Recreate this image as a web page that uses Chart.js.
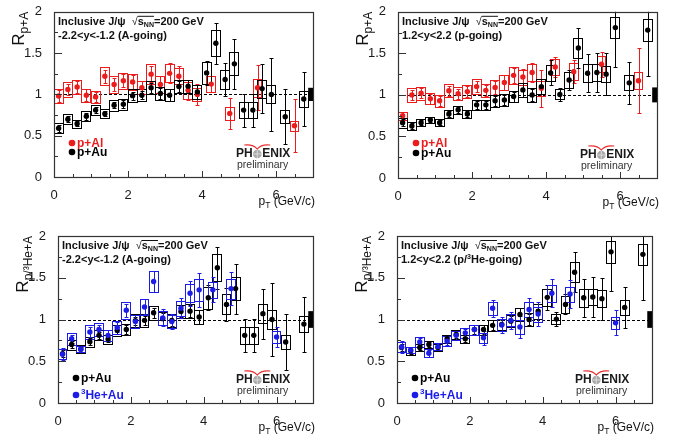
<!DOCTYPE html>
<html>
<head>
<meta charset="utf-8">
<script src="https://cdn.jsdelivr.net/npm/chart.js@4.4.1/dist/chart.umd.min.js"></script>
<style>
  html, body { margin: 0; padding: 0; background: #fff; }
  #wrap { position: relative; width: 678px; height: 444px; overflow: hidden; }
  canvas { position: absolute; }
</style>
</head>
<body>
<div id="wrap">
  <canvas id="c1" width="339" height="222" style="left:0;top:0;width:339px;height:222px"></canvas>
  <canvas id="c2" width="339" height="222" style="left:339px;top:0;width:339px;height:222px"></canvas>
  <canvas id="c3" width="339" height="222" style="left:0;top:222px;width:339px;height:222px"></canvas>
  <canvas id="c4" width="339" height="222" style="left:339px;top:222px;width:339px;height:222px"></canvas>
</div>
<script>
// pT bin centres (GeV/c)
const ptAu = [0.125, 0.375, 0.625, 0.875, 1.125, 1.375, 1.625, 1.875, 2.125, 2.375, 2.625, 2.875, 3.125,
              3.375, 3.625, 3.875, 4.125, 4.375, 4.625, 4.875, 5.125, 5.375, 5.625, 5.875, 6.25, 6.75];
const ptAl = [0.125, 0.375, 0.625, 0.875, 1.125, 1.375, 1.625, 1.875, 2.125, 2.375, 2.625, 2.875, 3.125,
              3.375, 3.625, 3.875, 4.25, 4.75, 5.5, 6.5];
const ptHe = [0.125, 0.375, 0.625, 0.875, 1.125, 1.375, 1.625, 1.875, 2.125, 2.375, 2.625, 2.875, 3.125,
              3.375, 3.625, 3.875, 4.25, 4.75, 6.0];

// p+Au, -2.2<y<-1.2 (A-going)
const auBwdY    = [0.59, 0.70, 0.645, 0.735, 0.81, 0.765, 0.87, 0.88, 0.985, 0.99, 1.08, 1.01, 0.99,
                   1.095, 1.10, 1.03, 1.26, 1.62, 1.18, 1.37, 0.81, 0.81, 1.07, 1.00, 0.73, 0.945];
const auBwdStat = [0.04, 0.04, 0.03, 0.04, 0.04, 0.03, 0.04, 0.05, 0.05, 0.05, 0.06, 0.07, 0.07,
                   0.07, 0.07, 0.08, 0.15, 0.25, 0.20, 0.30, 0.20, 0.20, 0.30, 0.44, 0.33, 0.33];
const auBwdSys  = [0.06, 0.06, 0.05, 0.06, 0.06, 0.055, 0.065, 0.065, 0.075, 0.075, 0.08, 0.075, 0.075,
                   0.08, 0.08, 0.08, 0.13, 0.16, 0.12, 0.14, 0.10, 0.10, 0.11, 0.11, 0.08, 0.10];

// p+Au, 1.2<y<2.2 (p-going)
const auFwdY    = [0.665, 0.625, 0.665, 0.70, 0.665, 0.77, 0.82, 0.77, 0.88, 0.88, 0.93, 0.94, 0.98,
                   1.06, 1.00, 1.10, 1.265, 1.005, 1.18, 1.565, 1.26, 1.27, 1.25, 1.81, 1.145, 1.78];
const auFwdStat = [0.04, 0.04, 0.03, 0.03, 0.03, 0.04, 0.04, 0.04, 0.05, 0.05, 0.06, 0.06, 0.06,
                   0.08, 0.07, 0.09, 0.15, 0.08, 0.12, 0.24, 0.23, 0.24, 0.25, 0.47, 0.25, 0.55];
const auFwdSys  = [0.06, 0.05, 0.04, 0.04, 0.045, 0.05, 0.05, 0.05, 0.06, 0.06, 0.07, 0.07, 0.07,
                   0.08, 0.08, 0.09, 0.10, 0.06, 0.10, 0.12, 0.11, 0.10, 0.10, 0.13, 0.09, 0.13];

// p+Al
const alBwdY    = [0.98, 1.06, 1.09, 0.99, 0.97, 1.22, 1.12, 1.165, 1.15, 1.08, 1.245, 1.12, 1.255,
                   1.22, 1.05, 1.00, 1.125, 0.77, 1.08, 0.62];
const alBwdStat = [0.07, 0.07, 0.07, 0.07, 0.06, 0.08, 0.08, 0.08, 0.08, 0.08, 0.10, 0.10, 0.12,
                   0.12, 0.12, 0.13, 0.10, 0.19, 0.27, 0.32];
const alBwdSys  = [0.085, 0.09, 0.09, 0.08, 0.07, 0.11, 0.10, 0.10, 0.10, 0.08, 0.12, 0.10, 0.11,
                   0.10, 0.10, 0.08, 0.10, 0.075, 0.11, 0.06];
const alFwdY    = [0.75, 1.00, 1.02, 0.955, 0.93, 1.05, 1.015, 1.04, 1.10, 1.055, 1.09, 1.15, 1.235,
                   1.215, 1.27, 1.08, 1.335, 1.28, 1.37, 1.17];
const alFwdStat = [0.05, 0.06, 0.06, 0.06, 0.06, 0.06, 0.06, 0.07, 0.07, 0.07, 0.08, 0.09, 0.09,
                   0.10, 0.11, 0.22, 0.12, 0.14, 0.15, 0.39];
const alFwdSys  = [0.05, 0.08, 0.08, 0.07, 0.07, 0.08, 0.08, 0.08, 0.09, 0.08, 0.09, 0.09, 0.10,
                   0.09, 0.10, 0.09, 0.10, 0.10, 0.10, 0.10];

// 3He+Au
const heBwdY    = [0.585, 0.77, 0.645, 0.85, 0.88, 0.81, 0.905, 1.11, 0.975, 1.15, 1.455, 1.02, 0.975,
                   1.135, 1.315, 1.355, 1.355, 1.37, 0.79];
const heBwdStat = [0.07, 0.05, 0.04, 0.06, 0.06, 0.06, 0.06, 0.08, 0.08, 0.09, 0.12, 0.10, 0.09,
                   0.12, 0.15, 0.20, 0.15, 0.20, 0.12];
const heBwdSys  = [0.06, 0.07, 0.04, 0.08, 0.08, 0.07, 0.08, 0.10, 0.08, 0.10, 0.12, 0.08, 0.08,
                   0.09, 0.11, 0.13, 0.10, 0.12, 0.07];
const heFwdY    = [0.67, 0.635, 0.73, 0.595, 0.675, 0.74, 0.81, 0.84, 0.88, 0.78, 1.135, 0.935, 0.99,
                   0.91, 1.12, 1.065, 1.315, 1.305, 0.96];
const heFwdStat = [0.07, 0.04, 0.05, 0.04, 0.04, 0.05, 0.05, 0.05, 0.06, 0.08, 0.10, 0.10, 0.10,
                   0.13, 0.14, 0.14, 0.17, 0.17, 0.15];
const heFwdSys  = [0.06, 0.04, 0.06, 0.05, 0.04, 0.06, 0.05, 0.06, 0.06, 0.06, 0.08, 0.07, 0.07,
                   0.08, 0.09, 0.09, 0.10, 0.09, 0.07];

// global (normalisation) uncertainty per panel
const globalSys = [0.08, 0.09, 0.10, 0.10];

const FONT = "'Liberation Sans', Arial, Helvetica, sans-serif";
const RED = '#ec1c1c', BLUE = '#1c1ce8', BLACK = '#000000';
const HALF_BIN = 0.135;

function series(label, color, xs, ys, stat, sys) {
  return {
    label: label,
    data: xs.map((x, i) => ({ x: x, y: ys[i] })),
    stat: stat, sys: sys, color: color,
    backgroundColor: color, borderColor: color,
    pointRadius: 2.7, pointHoverRadius: 2.7, pointBorderWidth: 0, showLine: false
  };
}

// text runs: [text, font, dy]
function drawRuns(ctx, x, y, runs) {
  for (const r of runs) {
    ctx.font = r[1];
    ctx.fillText(r[0], x, y + (r[2] || 0));
    x += ctx.measureText(r[0]).width;
  }
  return x;
}

function makePlugin(p) {
  return {
    id: 'phenix_' + p.id,
    beforeDatasetsDraw(chart) {
      const ctx = chart.ctx, a = chart.chartArea;
      const xs = chart.scales.x, ys = chart.scales.y;
      ctx.save();
      ctx.beginPath();
      ctx.rect(a.left, a.top, a.right - a.left, a.bottom - a.top);
      ctx.clip();

      // dashed line at R = 1
      const y1 = Math.round(ys.getPixelForValue(1)) + 0.5;
      ctx.strokeStyle = '#000';
      ctx.lineWidth = 1;
      ctx.setLineDash([3, 2]);
      ctx.beginPath(); ctx.moveTo(a.left, y1); ctx.lineTo(a.right, y1); ctx.stroke();
      ctx.setLineDash([]);

      // global uncertainty box at right edge
      ctx.fillStyle = '#000';
      const gt = ys.getPixelForValue(1 + p.glob), gb = ys.getPixelForValue(1 - p.glob);
      const gl = xs.getPixelForValue(6.87);
      ctx.fillRect(gl, gt, a.right - gl, gb - gt);

      // sys boxes + stat bars, lowest dataset first
      const dsets = chart.data.datasets.slice().reverse();
      for (const ds of dsets) {
        ctx.strokeStyle = ds.color;
        ctx.lineWidth = 1;
        ds.data.forEach((pt, i) => {
          const px = Math.round(xs.getPixelForValue(pt.x)) + 0.5;
          const xl = Math.round(xs.getPixelForValue(pt.x - HALF_BIN)) + 0.5;
          const xr = Math.round(xs.getPixelForValue(pt.x + HALF_BIN)) - 0.5;
          const yt = Math.round(ys.getPixelForValue(pt.y + ds.sys[i])) + 0.5;
          const yb = Math.round(ys.getPixelForValue(pt.y - ds.sys[i])) + 0.5;
          ctx.strokeRect(xl, yt, xr - xl, yb - yt);
          const st = Math.round(ys.getPixelForValue(pt.y + ds.stat[i])) + 0.5;
          const sb = Math.round(ys.getPixelForValue(pt.y - ds.stat[i])) + 0.5;
          ctx.beginPath();
          ctx.moveTo(px, st); ctx.lineTo(px, sb);
          ctx.moveTo(px - 2, st); ctx.lineTo(px + 2, st);
          ctx.moveTo(px - 2, sb); ctx.lineTo(px + 2, sb);
          ctx.stroke();
        });
      }
      ctx.restore();
    },
    afterDraw(chart) {
      const ctx = chart.ctx, a = chart.chartArea;
      const xs = chart.scales.x, ys = chart.scales.y;
      ctx.save();

      // frame
      ctx.strokeStyle = '#333';
      ctx.lineWidth = 1.2;
      ctx.strokeRect(Math.round(a.left) + 0.5, Math.round(a.top) + 0.5,
                     Math.round(a.right - a.left), Math.round(a.bottom - a.top));

      // inner ticks
      ctx.lineWidth = 1;
      ctx.beginPath();
      for (let v = 0; v <= 7.001; v += 0.5) {
        const px = Math.round(xs.getPixelForValue(v)) + 0.5;
        const len = (v % 2 === 0) ? 6 : 3;
        ctx.moveTo(px, a.bottom); ctx.lineTo(px, a.bottom - len);
      }
      for (let v = 0; v <= 2.001; v += 0.25) {
        const py = Math.round(ys.getPixelForValue(v)) + 0.5;
        const len = (Math.abs(v * 2 - Math.round(v * 2)) < 1e-6) ? 8 : 4;
        ctx.moveTo(a.left, py); ctx.lineTo(a.left + len, py);
      }
      ctx.stroke();

      ctx.fillStyle = '#111';
      ctx.textBaseline = 'alphabetic';
      ctx.textAlign = 'left';

      // header text
      const bold = 'bold 11px ' + FONT;
      let tx = a.left + 4, ty = a.top + 13;
      tx = drawRuns(ctx, tx, ty, [['Inclusive J/\u03c8  ', bold], ['\u221a', '11px ' + FONT]]);
      const sx0 = tx;
      tx = drawRuns(ctx, tx, ty, [['s', bold], ['NN', 'bold 7px ' + FONT, 2]]);
      ctx.beginPath();
      ctx.moveTo(sx0, ty - 8.5); ctx.lineTo(tx, ty - 8.5);
      ctx.strokeStyle = '#111'; ctx.stroke();
      drawRuns(ctx, tx, ty, [['=200 GeV', bold]]);
      drawRuns(ctx, a.left + 4, a.top + 27, p.rapidity);

      // legend
      p.legend.forEach((e, i) => {
        const ly = a.bottom + p.legendRows[i];
        ctx.fillStyle = e[1];
        ctx.beginPath(); ctx.arc(a.left + 18, ly, 3.3, 0, 2 * Math.PI); ctx.fill();
        ctx.textBaseline = 'middle';
        drawRuns(ctx, a.left + 23, ly + 1, e[0].map(r => [r[0], r[1] + FONT, r[2]]));
      });

      // PHENIX preliminary
      const lx = a.right - 77, ly = a.bottom - 23;
      ctx.textBaseline = 'middle';
      ctx.fillStyle = '#1a1a1a';
      ctx.font = 'bold 12px ' + FONT;
      ctx.fillText('PH', lx, ly);
      const ox = lx + ctx.measureText('PH').width + 4.6;
      ctx.fillStyle = '#a8a8a8';
      ctx.beginPath(); ctx.arc(ox, ly, 4.3, 0, 2 * Math.PI); ctx.fill();
      ctx.fillStyle = '#dcdcdc';
      ctx.fillRect(ox - 0.5, ly - 4, 1, 8);
      ctx.fillRect(ox - 4, ly - 0.5, 8, 1);
      ctx.fillStyle = '#1a1a1a';
      ctx.font = 'bold 12px ' + FONT;
      ctx.fillText('ENIX', ox + 5, ly);
      ctx.fillStyle = '#333';
      ctx.font = '10.5px ' + FONT;
      ctx.fillText('preliminary', lx + 1, a.bottom - 12);
      ctx.strokeStyle = '#e83030';
      ctx.lineWidth = 1.1;
      ctx.beginPath();
      ctx.moveTo(ox - 13, ly - 9);
      ctx.quadraticCurveTo(ox - 4, ly - 10, ox, ly - 5);
      ctx.quadraticCurveTo(ox + 4, ly - 10, ox + 13, ly - 9);
      ctx.stroke();

      // y-axis title: R with subscript, rotated, ending at top of frame
      ctx.fillStyle = '#111';
      ctx.textBaseline = 'alphabetic';
      ctx.save();
      ctx.translate(a.left - 30, a.top);
      ctx.rotate(-Math.PI / 2);
      ctx.font = '17px ' + FONT;
      const wR = ctx.measureText('R').width;
      ctx.font = '12px ' + FONT;
      const wS = ctx.measureText(p.ytitle).width;
      ctx.font = '17px ' + FONT;
      ctx.fillText('R', -(wR + wS), 0);
      ctx.font = '12px ' + FONT;
      ctx.fillText(p.ytitle, -wS, 4);
      ctx.restore();

      // x-axis title
      ctx.font = '12px ' + FONT;
      const tail = ' (GeV/c)';
      const wt = ctx.measureText(tail).width;
      const wp = ctx.measureText('p').width;
      ctx.font = '8.5px ' + FONT;
      const wT = ctx.measureText('T').width;
      const xt0 = a.right + 2 - wt - wT - wp, yt0 = a.bottom + 28;
      drawRuns(ctx, xt0, yt0, [['p', '12px ' + FONT], ['T', '8.5px ' + FONT, 3], [tail, '12px ' + FONT]]);

      ctx.restore();
    }
  };
}

function makeChart(p) {
  const L = p.area[0], R = p.area[1], T = p.area[2], B = p.area[3];
  const W = 339, H = 222;
  const tickFont = { family: FONT, size: 13 };
  return new Chart(document.getElementById(p.id), {
    type: 'scatter',
    data: { datasets: p.datasets },
    options: {
      responsive: false,
      animation: false,
      events: [],
      layout: { padding: { left: 0, right: W - R, top: T, bottom: 0 } },
      scales: {
        x: {
          type: 'linear', min: 0, max: 7,
          afterFit: s => { s.height = H - B; },
          grid: { display: false }, border: { display: false },
          ticks: { stepSize: 2, includeBounds: false, padding: 3, color: '#1a1a1a', font: tickFont,
                   maxRotation: 0, callback: v => String(v) }
        },
        y: {
          type: 'linear', min: 0, max: 2,
          afterFit: s => { s.width = L; },
          grid: { display: false }, border: { display: false },
          ticks: { stepSize: 0.5, padding: 4, color: '#1a1a1a', font: tickFont, callback: v => String(v) }
        }
      },
      plugins: { legend: { display: false }, tooltip: { enabled: false } }
    },
    plugins: [makePlugin(p)]
  });
}

const B11 = 'bold 11px ';
const L12 = 'bold 12px ';
const panels = [
  {
    id: 'c1', area: [54, 313, 7, 177], glob: globalSys[0], ytitle: 'p+A',
    rapidity: [['-2.2<y<-1.2 (A-going)', B11 + FONT]],
    datasets: [series('p+Au', BLACK, ptAu, auBwdY, auBwdStat, auBwdSys),
               series('p+Al', RED, ptAl, alBwdY, alBwdStat, alBwdSys)],
    legend: [[[['p+Al', L12]], RED], [[['p+Au', L12]], BLACK]], legendRows: [-34, -25]
  },
  {
    id: 'c2', area: [59, 318, 6, 178], glob: globalSys[1], ytitle: 'p+A',
    rapidity: [['1.2<y<2.2 (p-going)', B11 + FONT]],
    datasets: [series('p+Au', BLACK, ptAu, auFwdY, auFwdStat, auFwdSys),
               series('p+Al', RED, ptAl, alFwdY, alFwdStat, alFwdSys)],
    legend: [[[['p+Al', L12]], RED], [[['p+Au', L12]], BLACK]], legendRows: [-35, -25]
  },
  {
    id: 'c3', area: [58, 313, 14, 181], glob: globalSys[2], ytitle: 'p/\u00b3He+A',
    rapidity: [['-2.2<y<-1.2 (A-going)', B11 + FONT]],
    datasets: [series('3He+Au', BLUE, ptHe, heBwdY, heBwdStat, heBwdSys),
               series('p+Au', BLACK, ptAu, auBwdY, auBwdStat, auBwdSys)],
    legend: [[[['p+Au', L12]], BLACK], [[['3', 'bold 8px ', -4], ['He+Au', L12]], BLUE]], legendRows: [-25, -8]
  },
  {
    id: 'c4', area: [58, 313, 14, 181], glob: globalSys[3], ytitle: 'p/\u00b3He+A',
    rapidity: [['1.2<y<2.2 (p/', B11 + FONT], ['3', 'bold 7px ' + FONT, -4], ['He-going)', B11 + FONT]],
    datasets: [series('3He+Au', BLUE, ptHe, heFwdY, heFwdStat, heFwdSys),
               series('p+Au', BLACK, ptAu, auFwdY, auFwdStat, auFwdSys)],
    legend: [[[['p+Au', L12]], BLACK], [[['3', 'bold 8px ', -4], ['He+Au', L12]], BLUE]], legendRows: [-25, -8]
  }
];

panels.forEach(makeChart);
</script>
</body>
</html>
